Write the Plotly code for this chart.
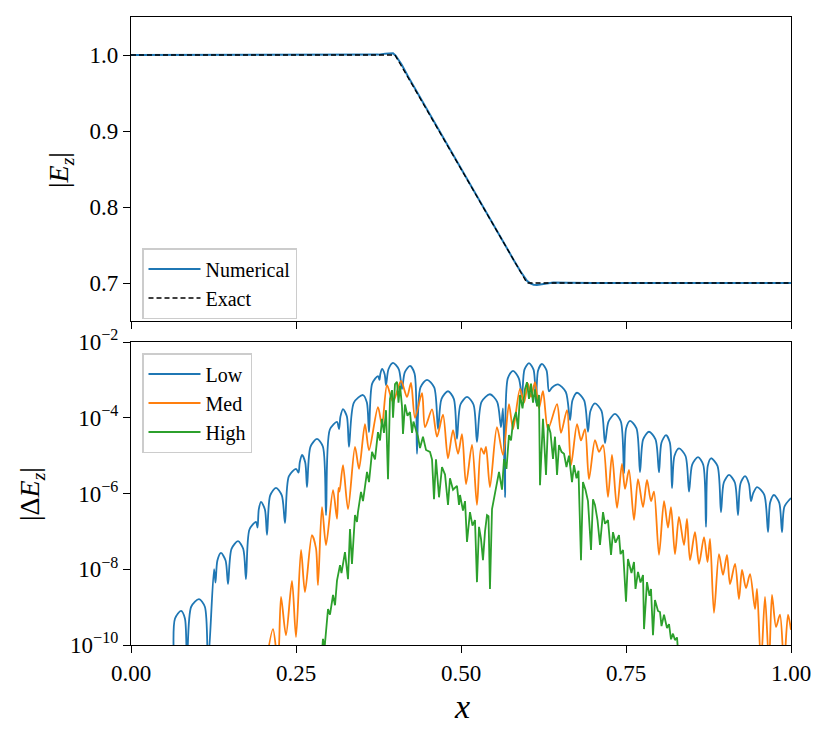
import plotly.graph_objects as go

# ---------------- top panel: |E_z| ----------------
exact_x = [0.0, 0.4, 0.6, 1.0]
exact_y = [1.0, 1.0, 0.7, 0.7]

num_x = [0.0, 0.30, 0.36, 0.375, 0.385, 0.392, 0.397, 0.401, 0.405, 0.41, 0.42,
         0.50, 0.58, 0.59, 0.595, 0.60, 0.605, 0.61, 0.615, 0.62, 0.63, 0.64,
         0.66, 0.70, 1.0]
num_y = [1.0, 1.0, 1.0, 1.0005, 1.0018, 1.0026, 1.0022, 0.9990, 0.9945, 0.9875,
         0.9715, 0.8500, 0.7300, 0.7155, 0.7085, 0.7030, 0.6995, 0.6978, 0.6975,
         0.6982, 0.6998, 0.7008, 0.7004, 0.7000, 0.7000]

# ---------------- bottom panel: |ΔE_z| (stored as log10 values) ----------------
low_x = [0.0652, 0.0667, 0.0758, 0.0817, 0.0848, 0.0912, 0.1030, 0.1119, 0.1167,
         0.1258, 0.1280, 0.1309, 0.1364, 0.1433, 0.1470, 0.1523, 0.1621, 0.1700, 0.1742,
         0.1795, 0.1894, 0.1917, 0.1936, 0.1970, 0.2029, 0.2061, 0.2109, 0.2197, 0.2285, 0.2333,
         0.2391, 0.2500, 0.2538, 0.2557, 0.2591, 0.2640, 0.2667, 0.2720, 0.2818, 0.2907, 0.2955,
         0.3013, 0.3121, 0.3152, 0.3173, 0.3212, 0.3271, 0.3303, 0.3377, 0.3515, 0.3574, 0.3606,
         0.3654, 0.3742, 0.3765, 0.3777, 0.3803, 0.3843, 0.3864, 0.3901, 0.3970, 0.4058, 0.4106,
         0.4148, 0.4227, 0.4296, 0.4333, 0.4386, 0.4485, 0.4594, 0.4652, 0.4705, 0.4803, 0.4891, 0.4939,
         0.4992, 0.5091, 0.5189, 0.5242, 0.5311, 0.5439, 0.5548, 0.5606, 0.5636, 0.5667,
         0.5709, 0.5788, 0.5876, 0.5924, 0.5961, 0.6030, 0.6099, 0.6136, 0.6168, 0.6227, 0.6296, 0.6333,
         0.6381, 0.6470, 0.6588, 0.6652, 0.6689, 0.6758, 0.6866, 0.6924, 0.6961, 0.7030, 0.7129, 0.7182,
         0.7235, 0.7333, 0.7422, 0.7470, 0.7502, 0.7561, 0.7659, 0.7712, 0.7760, 0.7848, 0.7947, 0.8000,
         0.8037, 0.8106, 0.8165, 0.8197, 0.8234, 0.8303, 0.8402, 0.8455, 0.8503, 0.8591, 0.8670, 0.8712,
         0.8739, 0.8788, 0.8886, 0.8939, 0.8982, 0.9061, 0.9149, 0.9197, 0.9234, 0.9303, 0.9362, 0.9394,
         0.9426, 0.9485, 0.9594, 0.9652, 0.9684, 0.9742, 0.9821, 0.9864, 0.9900, 1.0]
low_log = [-10.5, -9.3, -9.10, -9.3, -10.5, -8.99, -8.79, -8.99, -10.5,
           -8.0, -8.35, -7.77, -7.57, -7.77, -8.39, -7.46, -7.26, -7.46, -8.26,
           -6.95, -6.75, -6.9, -6.42, -6.22, -6.42, -7.09, -6.05, -5.85, -6.05, -6.78,
           -5.55, -5.35, -5.45, -5.18, -4.98, -5.18, -5.83, -4.76, -4.56, -4.76, -6.57,
           -4.31, -4.11, -4.3, -3.97, -3.77, -3.97, -4.77, -3.60, -3.40, -3.60, -4.38,
           -3.10, -2.9, -3.0, -2.85, -2.71, -2.85, -3.14, -2.72, -2.55, -2.72, -3.24,
           -2.80, -2.63, -2.83, -4.95, -3.2, -3.0, -3.2, -4.30, -3.5, -3.30, -3.5, -4.56,
           -3.65, -3.45, -3.65, -4.64, -3.58, -3.38, -3.58, -4.25, -3.75, -6.1,
           -2.96, -2.76, -2.96, -3.45, -2.73, -2.56, -2.73, -3.6, -2.75, -2.58, -2.75, -3.30,
           -3.2, -3.12, -3.32, -4.06, -3.54, -3.34, -3.54, -4.37, -3.82, -3.62, -3.82, -4.67,
           -4.10, -3.90, -4.10, -5.47, -4.28, -4.08, -4.28, -5.44, -4.57, -4.37, -4.57, -5.44,
           -4.66, -4.46, -4.66, -5.86, -5.01, -4.81, -5.01, -5.95, -5.24, -5.04, -5.24, -6.88,
           -5.27, -5.07, -5.27, -6.49, -5.71, -5.51, -5.71, -6.57, -5.74, -5.54, -5.74, -6.2,
           -6.0, -5.83, -6.03, -7.02, -6.24, -6.04, -6.24, -7.02, -6.35, -6.12]

med_x = [0.2045, 0.2152, 0.2227, 0.2273, 0.2348, 0.2439, 0.2500, 0.2576, 0.2636, 0.2742,
         0.2803, 0.2833, 0.2894, 0.2955, 0.3061, 0.3121, 0.3144, 0.3159, 0.3212, 0.3288,
         0.3394, 0.3455, 0.3545, 0.3606, 0.3742, 0.3803, 0.3879, 0.3970, 0.4091, 0.4182,
         0.4242, 0.4303, 0.4409, 0.4455, 0.4561, 0.4636, 0.4727, 0.4803, 0.4879, 0.4955,
         0.5015, 0.5076, 0.5167, 0.5242, 0.5303, 0.5348, 0.5379, 0.5439, 0.5545, 0.5636,
         0.5727, 0.5788, 0.5894, 0.5955, 0.6015, 0.6061, 0.6121, 0.6182, 0.6242, 0.6318,
         0.6455, 0.6515, 0.6606, 0.6667, 0.6758, 0.6818, 0.6879, 0.6939, 0.7030, 0.7091,
         0.7152, 0.7227, 0.7288, 0.7364, 0.7439, 0.7485, 0.7545, 0.7621, 0.7682, 0.7758,
         0.7818, 0.7879, 0.7924, 0.8000, 0.8076, 0.8136, 0.8182, 0.8242, 0.8303, 0.8379,
         0.8424, 0.8470, 0.8545, 0.8606, 0.8682, 0.8735, 0.8773, 0.8833, 0.8909, 0.8970,
         0.9030, 0.9076, 0.9152, 0.9212, 0.9258, 0.9318, 0.9379, 0.9455, 0.9485, 0.9545,
         0.9606, 0.9667, 0.9712, 0.9773, 0.9833, 0.9894, 0.9955, 1.0]
med_log = [-10.5, -9.58, -10.5, -8.73, -9.74, -8.31, -9.79, -7.49, -8.60, -7.10,
           -7.45, -8.42, -6.36, -7.36, -5.91, -6.67, -5.85, -5.95, -5.25, -6.41,
           -4.77, -5.35, -4.17, -4.86, -3.72, -4.19, -3.14, -3.58, -3.03, -3.45,
           -3.08, -4.0, -3.35, -4.25, -3.78, -4.5, -3.92, -5.07, -4.33, -4.95,
           -4.43, -5.75, -4.72, -6.30, -4.80, -4.95, -4.77, -5.83, -4.25, -4.98,
           -3.64, -4.3, -3.24, -3.6, -3.1, -3.45, -3.06, -3.75, -3.3, -4.30,
           -3.64, -4.4, -3.80, -5.25, -4.17, -4.6, -4.30, -5.62, -4.59, -4.9,
           -4.72, -6.09, -4.98, -6.38, -5.22, -5.88, -5.38, -6.70, -5.62, -6.36,
           -5.64, -6.2, -5.95, -7.62, -6.20, -6.9, -6.36, -7.60, -6.62, -7.36,
           -6.67, -7.76, -7.02, -7.86, -7.15, -7.81, -7.20, -9.15, -7.60, -8.15,
           -7.62, -8.39, -7.86, -8.79, -8.02, -8.5, -8.13, -9.05, -8.52, -10.5,
           -8.73, -10.5, -8.68, -9.52, -9.2, -10.5, -9.2, -9.6]

high_x = [0.2879, 0.2909, 0.2932, 0.2955, 0.2985, 0.3015, 0.3061, 0.3091, 0.3121, 0.3167,
          0.3189, 0.3242, 0.3288, 0.3318, 0.3348, 0.3394, 0.3424, 0.3439, 0.3485, 0.3515,
          0.3576, 0.3606, 0.3652, 0.3697, 0.3742, 0.3773, 0.3803, 0.3833, 0.3864, 0.3894,
          0.3924, 0.3955, 0.3970, 0.4000, 0.4030, 0.4053, 0.4076, 0.4106, 0.4121, 0.4152,
          0.4189, 0.4227, 0.4258, 0.4280, 0.4318, 0.4348, 0.4379, 0.4424, 0.4470, 0.4530,
          0.4561, 0.4591, 0.4621, 0.4667, 0.4712, 0.4758, 0.4803, 0.4833, 0.4879, 0.4939,
          0.4970, 0.4985, 0.5030, 0.5061, 0.5091, 0.5136, 0.5174, 0.5212, 0.5242, 0.5273,
          0.5303, 0.5333, 0.5364, 0.5394, 0.5417, 0.5439, 0.5470, 0.5500, 0.5545, 0.5576,
          0.5621, 0.5652, 0.5689, 0.5727, 0.5758, 0.5788, 0.5833, 0.5864, 0.5894, 0.5932,
          0.5970, 0.6000, 0.6030, 0.6061, 0.6091, 0.6121, 0.6152, 0.6182, 0.6197, 0.6242,
          0.6288, 0.6318, 0.6356, 0.6394, 0.6424, 0.6455, 0.6485, 0.6523, 0.6561, 0.6598,
          0.6636, 0.6682, 0.6712, 0.6750, 0.6780, 0.6818, 0.6848, 0.6886, 0.6924, 0.6970,
          0.7000, 0.7030, 0.7068, 0.7106, 0.7152, 0.7182, 0.7227, 0.7273, 0.7303, 0.7341,
          0.7394, 0.7417, 0.7455, 0.7500, 0.7530, 0.7583, 0.7621, 0.7644, 0.7682, 0.7720,
          0.7758, 0.7773, 0.7818, 0.7856, 0.7879, 0.7909, 0.7939, 0.7985, 0.8015, 0.8038,
          0.8076, 0.8121, 0.8152, 0.8182, 0.8212, 0.8242, 0.8273, 0.8303]
high_log = [-10.5, -9.84, -10.1, -9.7, -9.05, -9.2, -8.68, -8.95, -8.3, -7.89,
            -8.1, -7.55, -8.26, -6.94, -7.86, -6.57, -6.75, -6.49, -5.96, -6.2,
            -5.43, -5.7, -4.90, -5.1, -4.38, -4.6, -4.03, -4.4, -3.8, -5.62,
            -3.50, -3.27, -4.0, -3.11, -3.05, -3.6, -3.15, -3.7, -4.43, -3.65,
            -3.95, -3.85, -4.4, -4.1, -4.3, -4.5, -4.8, -4.5, -4.85, -4.9,
            -5.1, -6.15, -5.1, -6.1, -5.3, -5.5, -6.30, -5.6, -5.9, -5.8,
            -6.3, -6.04, -6.45, -6.2, -7.28, -6.49, -6.85, -6.7, -8.34, -6.88,
            -7.2, -7.76, -7.0, -6.57, -6.6, -8.52, -6.41, -6.15, -5.70, -5.43,
            -5.9, -5.09, -5.35, -4.46, -4.6, -4.11, -3.85, -4.3, -3.40, -3.75,
            -3.24, -3.06, -3.5, -3.1, -3.6, -3.25, -3.7, -3.4, -5.78, -4.03,
            -5.51, -4.17, -4.4, -5.09, -4.5, -5.51, -4.72, -4.9, -4.95, -5.3,
            -5.0, -5.70, -5.25, -5.6, -5.4, -7.76, -5.70, -5.9, -6.2, -7.49,
            -6.15, -6.3, -6.7, -7.36, -6.49, -6.8, -6.7, -7.62, -7.02, -7.3,
            -7.1, -7.6, -7.49, -8.86, -7.73, -8.1, -7.81, -8.52, -8.07, -8.35,
            -8.15, -9.58, -8.34, -8.7, -8.52, -9.74, -8.81, -9.1, -9.13, -9.5,
            -9.2, -9.55, -9.45, -9.85, -9.7, -9.87, -9.8, -10.5]

x_ticks = [0.0, 0.25, 0.5, 0.75, 1.0]
x_ticktext = ["0.00", "0.25", "0.50", "0.75", "1.00"]
top_yticks = [0.7, 0.8, 0.9, 1.0]
top_yticktext = ["0.7", "0.8", "0.9", "1.0"]
log_exps = [-10, -8, -6, -4, -2]

BLUE, ORANGE, GREEN = "#1f77b4", "#ff7f0e", "#2ca02c"
FONT = "Liberation Serif"

fig = go.Figure()
fig.add_trace(go.Scatter(x=num_x, y=num_y, mode="lines", name="Numerical",
                         line=dict(color=BLUE, width=2), xaxis="x", yaxis="y",
                         legend="legend"))
fig.add_trace(go.Scatter(x=exact_x, y=exact_y, mode="lines", name="Exact",
                         line=dict(color="black", width=1.3, dash="5px,3px"),
                         xaxis="x", yaxis="y", legend="legend"))

for name, xs, ls, col, shp in [("Low", low_x, low_log, BLUE, "spline"),
                               ("Med", med_x, med_log, ORANGE, "spline"),
                               ("High", high_x, high_log, GREEN, "linear")]:
    line = dict(color=col, width=1.8, shape=shp)
    if shp == "spline":
        line["smoothing"] = 0.8
    fig.add_trace(go.Scatter(x=xs, y=[10 ** v for v in ls], mode="lines", name=name,
                             line=line, xaxis="x2", yaxis="y2", legend="legend2"))

W, H = 831, 742
xdom = [131 / W, 791 / W]
axis_common = dict(showline=True, mirror=True, linecolor="black", linewidth=1.3,
                   ticks="outside", ticklen=7, tickwidth=1.3, tickcolor="black",
                   showgrid=False, zeroline=False, automargin=False,
                   tickfont=dict(family=FONT, size=23, color="black"))

legend_common = dict(xanchor="left", yanchor="top", itemwidth=52,
                     bgcolor="rgba(255,255,255,0.85)", bordercolor="#cccccc",
                     borderwidth=1.5, font=dict(family=FONT, size=20, color="black"),
                     tracegroupgap=0)

fig.update_layout(
    width=W, height=H,
    margin=dict(l=0, r=0, t=0, b=0, autoexpand=False),
    paper_bgcolor="white", plot_bgcolor="white",
    font=dict(family=FONT, color="black"),
    xaxis=dict(domain=xdom, anchor="y", range=[0, 1], tickvals=x_ticks,
               showticklabels=False, **axis_common),
    yaxis=dict(domain=[1 - 321 / H, 1 - 17 / H], anchor="x", range=[0.65, 1.05],
               tickvals=top_yticks, ticktext=top_yticktext, **axis_common),
    xaxis2=dict(domain=xdom, anchor="y2", range=[0, 1], tickvals=x_ticks,
                ticktext=x_ticktext, **axis_common),
    yaxis2=dict(domain=[1 - 645 / H, 1 - 342 / H], anchor="x2", type="log",
                range=[-10, -2], tickvals=[10.0 ** e for e in log_exps],
                ticktext=["10<sup>\u2212%d</sup>" % (-e) for e in log_exps],
                **axis_common),
    legend=dict(x=142 / W, y=1 - 248 / H, **legend_common),
    legend2=dict(x=142 / W, y=1 - 353 / H, **legend_common),
    showlegend=True,
    annotations=[
        dict(text="|<i>E</i><sub><i>z</i></sub>|", x=60 / W, y=1 - 170 / H,
             xanchor="center", yanchor="middle",
             xref="paper", yref="paper", showarrow=False, textangle=-90,
             font=dict(family=FONT, size=28, color="black")),
        dict(text="|\u0394<i>E</i><sub><i>z</i></sub>|", x=32 / W, y=1 - 494 / H,
             xanchor="center", yanchor="middle",
             xref="paper", yref="paper", showarrow=False, textangle=-90,
             font=dict(family=FONT, size=28, color="black")),
        dict(text="<i>x</i>", x=462 / W, y=1 - 706 / H,
             xanchor="center", yanchor="middle",
             xref="paper", yref="paper", showarrow=False,
             font=dict(family=FONT, size=34, color="black")),
    ],
)

fig.write_html("out.html", config={"displayModeBar": False},
               post_script="document.body.style.margin='0px';document.body.style.padding='0px';")
